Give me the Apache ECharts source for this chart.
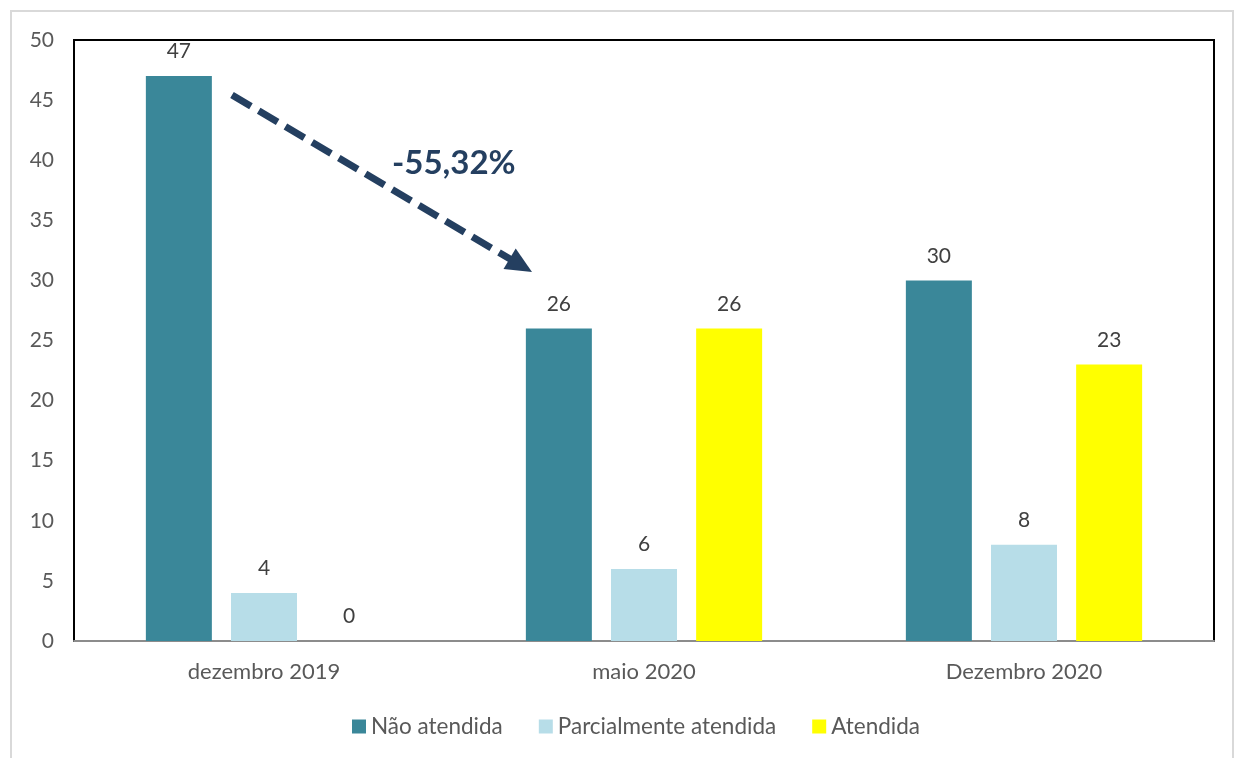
<!DOCTYPE html>
<html>
<head>
<meta charset="utf-8">
<script src="https://cdn.jsdelivr.net/npm/echarts@6/dist/echarts.min.js"></script>
<style>
  html, body { margin: 0; padding: 0; background: #fff; }
  #chart { width: 1234px; height: 758px; }
</style>
</head>
<body>
<div id="chart"></div>
<script>
const categories = ["dezembro 2019", "maio 2020", "Dezembro 2020"];
const naoAtendida = [47, 26, 30];
const parcialmente = [4, 6, 8];
const atendida = [0, 26, 23];
const yTicks = [0, 5, 10, 15, 20, 25, 30, 35, 40, 45, 50];
const changeText = "-55,32%";

const font = "Lato, 'Open Sans', sans-serif";
const labelStyle = {
  show: true,
  position: "top",
  distance: 14,
  color: "#404040",
  fontFamily: font,
  fontSize: 21,
};

const chart = echarts.init(document.getElementById("chart"));

chart.setOption({
  animation: false,
  textStyle: { fontFamily: font },
  grid: {
    left: 74,
    right: 20,
    top: 40,
    bottom: 117,
    show: true,
    borderColor: "#000",
    borderWidth: 2,
  },
  legend: {
    bottom: 15,
    left: 347,
    itemWidth: 14,
    itemHeight: 14,
    itemGap: 36,
    icon: "rect",
    selectedMode: false,
    textStyle: { color: "#595959", fontSize: 22.5, fontFamily: font, padding: [0, 0, 0, 0] },
    data: ["Não atendida", "Parcialmente atendida", "Atendida"],
  },
  xAxis: {
    type: "category",
    data: categories,
    axisTick: { show: false },
    axisLine: { lineStyle: { color: "#8c8c8c", width: 2 } },
    axisLabel: { color: "#595959", fontSize: 22, fontFamily: font, margin: 20 },
  },
  yAxis: {
    type: "value",
    min: yTicks[0],
    max: yTicks[yTicks.length - 1],
    interval: 5,
    splitLine: { show: false },
    axisLine: { show: false },
    axisTick: { show: false },
    axisLabel: { color: "#595959", fontSize: 21, fontFamily: font, margin: 20 },
  },
  series: [
    {
      name: "Não atendida",
      type: "bar",
      barWidth: 66,
      barGap: "29%",
      itemStyle: { color: "#3A8799" },
      label: labelStyle,
      data: naoAtendida,
    },
    {
      name: "Parcialmente atendida",
      type: "bar",
      barWidth: 66,
      barGap: "29%",
      itemStyle: { color: "#B7DDE8" },
      label: labelStyle,
      data: parcialmente,
    },
    {
      name: "Atendida",
      type: "bar",
      barWidth: 66,
      barGap: "29%",
      itemStyle: { color: "#FFFF00" },
      label: labelStyle,
      data: atendida,
    },
  ],
});

// annotation arrow (dashed) with percentage text
const x1 = 232, y1 = 95, x2 = 532, y2 = 272;
const ang = Math.atan2(y2 - y1, x2 - x1);
const headLen = 26, headHalf = 12;
const bx = x2 - headLen * Math.cos(ang), by = y2 - headLen * Math.sin(ang);
const px = -Math.sin(ang), py = Math.cos(ang);

chart.setOption({
  graphic: [
    {
      type: "rect",
      shape: { x: 11, y: 11, width: 1222, height: 760 },
      style: { fill: "none", stroke: "#D9D9D9", lineWidth: 2 },
      silent: true,
      z: -10,
    },
    {
      type: "line",
      shape: { x1: x1, y1: y1, x2: bx + 4 * Math.cos(ang), y2: by + 4 * Math.sin(ang) },
      style: { stroke: "#243F60", lineWidth: 7, lineDash: [22, 9] },
      z: 100,
    },
    {
      type: "polygon",
      shape: {
        points: [
          [x2, y2],
          [bx + px * headHalf, by + py * headHalf],
          [bx - px * headHalf, by - py * headHalf],
        ],
      },
      style: { fill: "#243F60" },
      z: 100,
    },
    {
      type: "text",
      left: 392,
      top: 147,
      style: {
        text: changeText,
        fill: "#243F60",
        font: "bold 33px " + font,
      },
      z: 100,
    },
  ],
});
</script>
</body>
</html>
